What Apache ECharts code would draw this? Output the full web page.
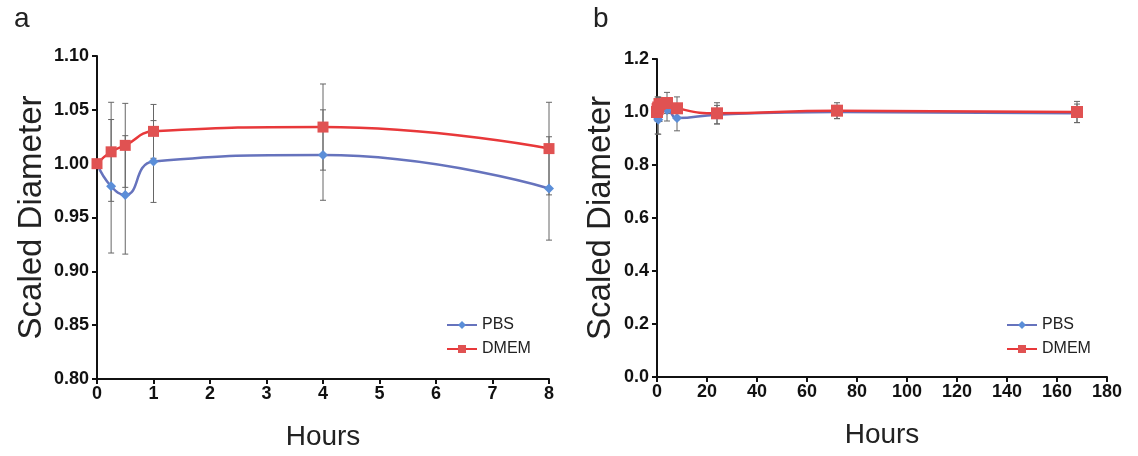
<!DOCTYPE html>
<html><head><meta charset="utf-8">
<script src="https://cdn.jsdelivr.net/npm/echarts@6/dist/echarts.min.js"></script>
<style>html,body{margin:0;padding:0;background:#fff}#c{width:1138px;height:456px}</style>
</head><body><div id="c"></div>
<script>
// Panel a data (hours 0-8)
const hoursA = [0, 0.25, 0.5, 1, 4, 8];
const pbsA = [1.000, 0.979, 0.971, 1.002, 1.008, 0.977];
const pbsErrA = [0, 0.062, 0.055, 0.038, 0.042, 0.048];
const dmemA = [1.000, 1.011, 1.017, 1.030, 1.034, 1.014];
const dmemErrA = [0, 0.046, 0.039, 0.025, 0.040, 0.043];
// Panel b data (hours 0-168)
const hoursB = [0, 0.25, 0.5, 1, 4, 8, 24, 72, 168];
const pbsB = [1.000, 0.979, 0.971, 1.002, 1.008, 0.977, 0.990, 1.000, 0.995];
const pbsErrB = [0, 0.062, 0.055, 0.038, 0.042, 0.048, 0.035, 0.025, 0.035];
const dmemB = [1.000, 1.011, 1.017, 1.030, 1.034, 1.014, 0.995, 1.005, 1.000];
const dmemErrB = [0, 0.046, 0.039, 0.025, 0.040, 0.043, 0.040, 0.030, 0.040];
const yTicksA = [0.80, 0.85, 0.90, 0.95, 1.00, 1.05, 1.10];
const yTicksB = [0.0, 0.2, 0.4, 0.6, 0.8, 1.0, 1.2];
const xTicksA = [0, 1, 2, 3, 4, 5, 6, 7, 8];
const xTicksB = [0, 20, 40, 60, 80, 100, 120, 140, 160, 180];

const FONT = '"Liberation Sans", Arial, sans-serif';
const PBS_LINE = '#6673bd', PBS_MARK = '#5b8ed8';
const DMEM_LINE = '#e8383a', DMEM_MARK = '#e05252';

function pairs(xs, ys) { return xs.map((x, i) => [x, ys[i]]); }
function triples(xs, ys, es) { return xs.map((x, i) => [x, ys[i], es[i]]); }

function errSeries(idx, xs, ys, es) {
  return {
    type: 'custom', xAxisIndex: idx, yAxisIndex: idx, z: 1, silent: true,
    data: triples(xs, ys, es), encode: { x: 0, y: 1 },
    renderItem: function (params, api) {
      const x = api.value(0), y = api.value(1), e = api.value(2);
      if (!e) return null;
      const t = api.coord([x, y + e]), b = api.coord([x, y - e]);
      const w = 3;
      const st = { stroke: '#666', lineWidth: 1 };
      return { type: 'group', children: [
        { type: 'line', shape: { x1: t[0], y1: t[1], x2: b[0], y2: b[1] }, style: st },
        { type: 'line', shape: { x1: t[0] - w, y1: t[1], x2: t[0] + w, y2: t[1] }, style: st },
        { type: 'line', shape: { x1: b[0] - w, y1: b[1], x2: b[0] + w, y2: b[1] }, style: st }
      ]};
    }
  };
}
function lineSeries(idx, name, xs, ys, lineColor, markColor, symbol, size) {
  return {
    type: 'line', name: name, xAxisIndex: idx, yAxisIndex: idx, z: 3,
    data: pairs(xs, ys), smooth: 0.5, symbol: symbol, symbolSize: size,
    lineStyle: { color: lineColor, width: 2.5 },
    itemStyle: { color: markColor, borderWidth: 0 },
    color: lineColor
  };
}
function valAxis(idx, min, max, interval, fmt, name, isX, gap) {
  return {
    type: 'value', gridIndex: idx, min: min, max: max, interval: interval,
    name: name, nameLocation: 'middle', nameGap: gap,
    nameTextStyle: { fontFamily: FONT, fontSize: isX ? 28 : 33, color: '#222' },
    axisLine: { show: true, onZero: false, lineStyle: { color: '#111', width: 2 } },
    axisTick: { show: true, length: 5, lineStyle: { color: '#111', width: 2 } },
    axisLabel: { fontFamily: FONT, fontSize: 18, fontWeight: 'bold', color: '#111', margin: isX ? 6 : 8, formatter: fmt },
    splitLine: { show: false }
  };
}

const chart = echarts.init(document.getElementById('c'), null, { renderer: 'canvas' });
chart.setOption({
  animation: false,
  backgroundColor: '#fff',
  title: [
    { text: 'a', left: 9, top: 0, textStyle: { fontFamily: FONT, fontSize: 28, fontWeight: 'normal', color: '#222' } },
    { text: 'b', left: 588, top: 0, textStyle: { fontFamily: FONT, fontSize: 28, fontWeight: 'normal', color: '#222' } }
  ],
  grid: [
    { left: 97, top: 56, width: 452, height: 323 },
    { left: 657, top: 59, width: 450, height: 318 }
  ],
  xAxis: [
    valAxis(0, xTicksA[0], xTicksA[xTicksA.length - 1], 1, v => String(v), 'Hours', true, 44),
    valAxis(1, xTicksB[0], xTicksB[xTicksB.length - 1], 20, v => String(v), 'Hours', true, 44)
  ],
  yAxis: [
    valAxis(0, yTicksA[0], yTicksA[yTicksA.length - 1], 0.05, v => v.toFixed(2), 'Scaled Diameter', false, 49),
    valAxis(1, yTicksB[0], yTicksB[yTicksB.length - 1], 0.2, v => v.toFixed(1), 'Scaled Diameter', false, 40)
  ],
  legend: [
    { data: ['PBS', 'DMEM'], orient: 'vertical', left: 441, top: 312, itemWidth: 30, itemHeight: 10, itemGap: 8,
      textStyle: { fontFamily: FONT, fontSize: 16, color: '#222' } },
    { data: ['PBS', 'DMEM'], orient: 'vertical', left: 1001, top: 312, itemWidth: 30, itemHeight: 10, itemGap: 8,
      textStyle: { fontFamily: FONT, fontSize: 16, color: '#222' } }
  ],
  series: [
    errSeries(0, hoursA, pbsA, pbsErrA),
    errSeries(0, hoursA, dmemA, dmemErrA),
    lineSeries(0, 'PBS', hoursA, pbsA, PBS_LINE, PBS_MARK, 'diamond', 10),
    lineSeries(0, 'DMEM', hoursA, dmemA, DMEM_LINE, DMEM_MARK, 'rect', 11),
    errSeries(1, hoursB, pbsB, pbsErrB),
    errSeries(1, hoursB, dmemB, dmemErrB),
    lineSeries(1, 'PBS', hoursB, pbsB, PBS_LINE, PBS_MARK, 'diamond', 10),
    lineSeries(1, 'DMEM', hoursB, dmemB, DMEM_LINE, DMEM_MARK, 'rect', 12)
  ]
});
</script></body></html>
